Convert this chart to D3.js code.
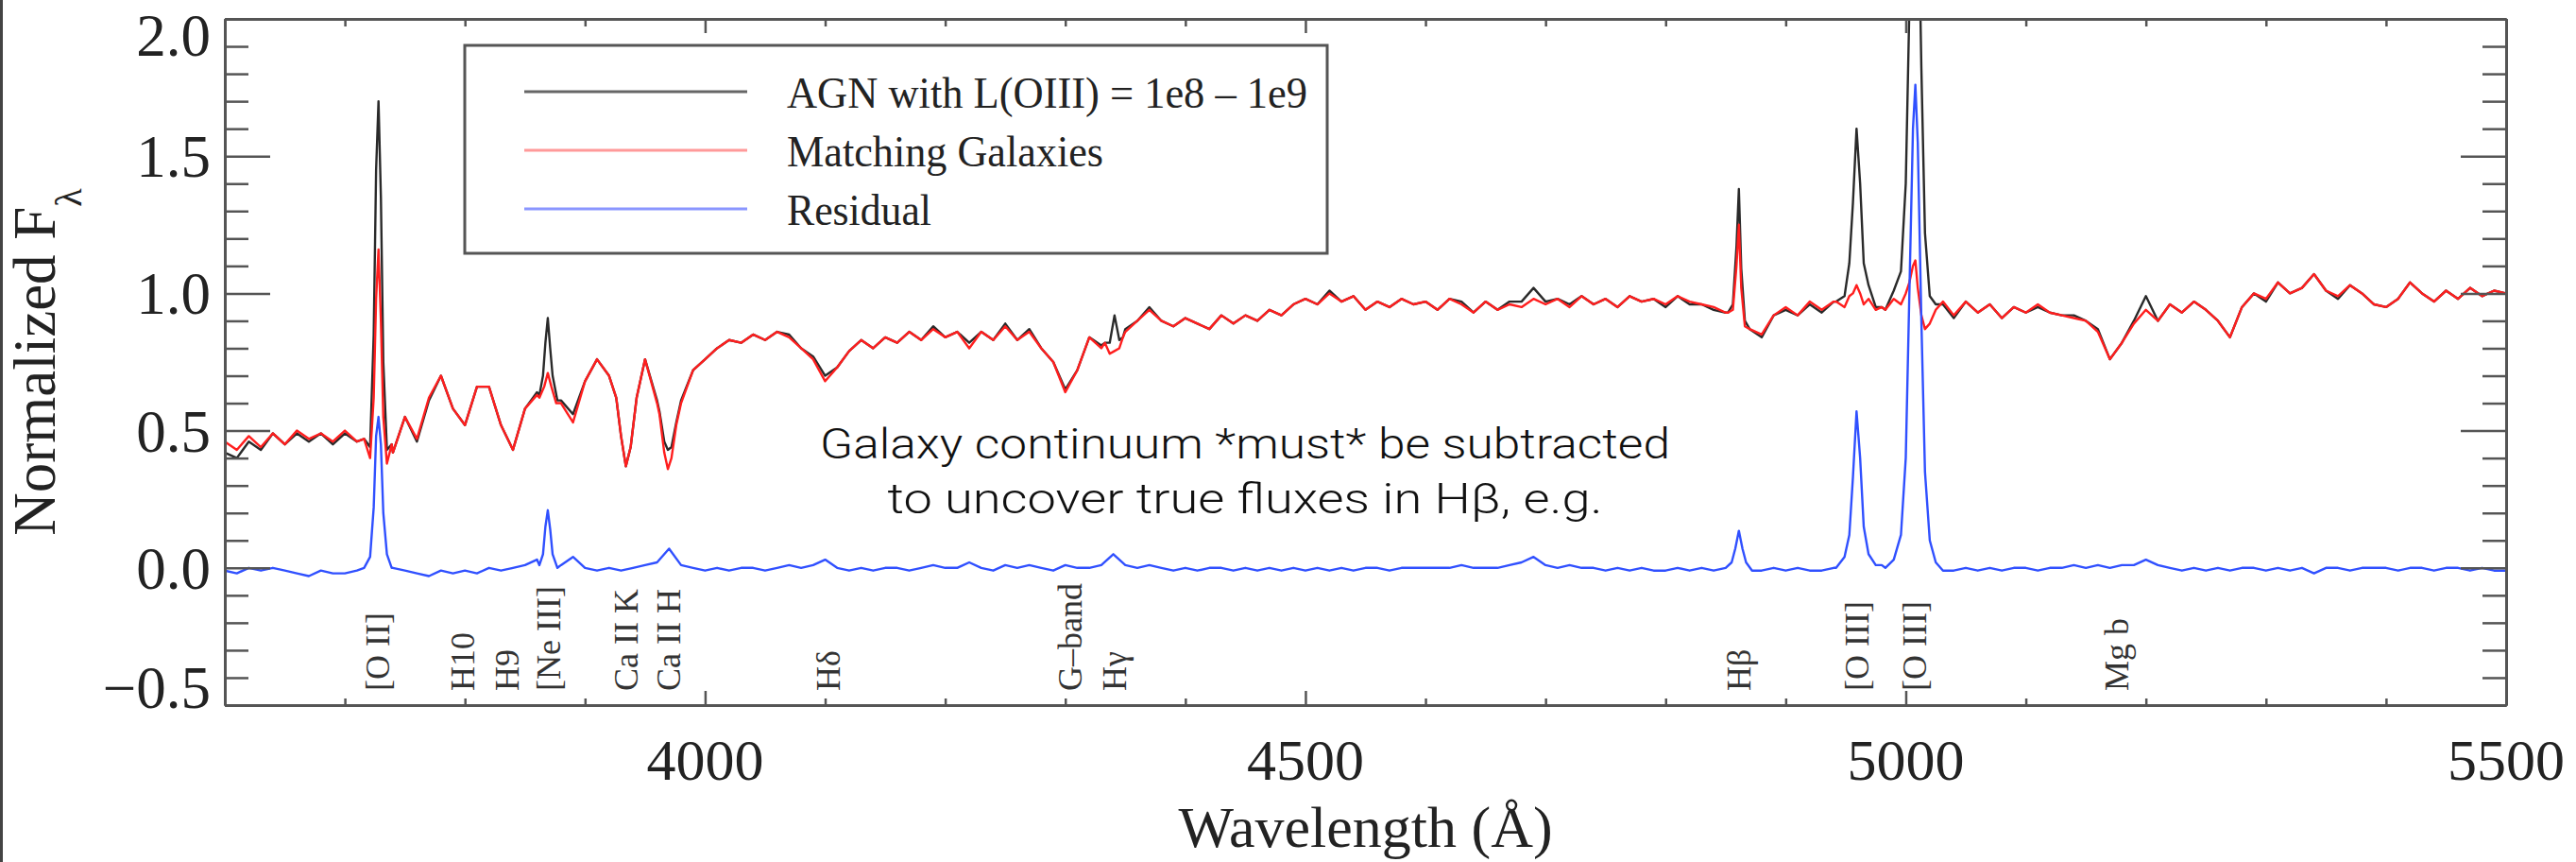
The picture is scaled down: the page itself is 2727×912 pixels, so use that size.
<!DOCTYPE html>
<html><head><meta charset="utf-8">
<script src="https://cdn.jsdelivr.net/npm/d3@7"></script>
<style>body{margin:0;background:#fff;} svg{display:block}</style>
</head><body>
<svg id="chart" width="2727" height="912"></svg>
<script>
// ---------------- DATA ----------------
const lambdaStart = 3600, lambdaStep = 10;   // regular 10 Å sampling grid 3600..5500

// Matching galaxies (red) on the 10 Å grid
const galaxyFlux = [
 0.46,0.43,0.48,0.44,0.49,0.45,0.50,0.47,0.49,0.46,
 0.50,0.46,0.45,0.45,0.42,0.55,0.47,0.62,0.70,0.58,
 0.52,0.66,0.66,0.52,0.43,0.58,0.63,0.70,0.60,0.53,
 0.68,0.76,0.70,0.50,0.50,0.76,0.60,0.40,0.60,0.72,
 0.76,0.80,0.83,0.82,0.85,0.83,0.86,0.84,0.80,0.76,
 0.68,0.73,0.79,0.83,0.80,0.84,0.82,0.86,0.83,0.87,
 0.84,0.86,0.80,0.86,0.83,0.88,0.83,0.86,0.80,0.75,
 0.64,0.72,0.84,0.80,0.79,0.86,0.90,0.94,0.90,0.88,
 0.91,0.89,0.87,0.92,0.89,0.92,0.90,0.94,0.92,0.96,
 0.98,0.96,1.00,0.97,0.99,0.94,0.97,0.95,0.98,0.96,
 0.97,0.94,0.98,0.96,0.93,0.97,0.94,0.96,0.95,0.98,
 0.96,0.98,0.95,0.99,0.96,0.98,0.95,0.99,0.97,0.98,
 0.96,0.99,0.97,0.96,0.95,0.93,1.00,0.87,0.85,0.92,
 0.95,0.92,0.97,0.94,0.97,0.96,1.02,0.98,0.95,0.97,
 0.99,1.08,0.88,0.95,0.92,0.97,0.93,0.96,0.91,0.95,
 0.93,0.96,0.93,0.92,0.91,0.90,0.86,0.76,0.82,0.89,
 0.94,0.90,0.96,0.93,0.97,0.94,0.90,0.84,0.95,1.00,
 0.98,1.04,1.00,1.02,1.07,1.01,0.99,1.03,1.00,0.96,
 0.95,0.98,1.04,1.00,0.97,1.01,0.98,1.02,0.99,1.01,
 1.00
];

// AGN with L(OIII)=1e8-1e9 (black) on the 10 Å grid
const agnFlux = [
 0.42,0.40,0.46,0.43,0.49,0.45,0.49,0.46,0.49,0.45,
 0.49,0.46,0.45,0.45,0.42,0.55,0.46,0.61,0.70,0.58,
 0.52,0.66,0.66,0.52,0.43,0.58,0.64,0.80,0.61,0.56,
 0.68,0.76,0.70,0.50,0.50,0.76,0.61,0.45,0.61,0.72,
 0.76,0.80,0.83,0.82,0.85,0.83,0.86,0.85,0.80,0.77,
 0.70,0.73,0.79,0.83,0.80,0.84,0.82,0.86,0.83,0.88,
 0.84,0.86,0.82,0.86,0.83,0.89,0.83,0.87,0.80,0.75,
 0.65,0.72,0.84,0.81,0.85,0.87,0.90,0.95,0.90,0.88,
 0.91,0.89,0.87,0.92,0.89,0.92,0.90,0.94,0.92,0.96,
 0.98,0.96,1.01,0.97,0.99,0.94,0.97,0.95,0.98,0.96,
 0.97,0.94,0.98,0.97,0.93,0.97,0.94,0.97,0.97,1.02,
 0.97,0.98,0.96,0.99,0.96,0.98,0.95,0.99,0.97,0.98,
 0.95,0.99,0.96,0.96,0.94,0.93,1.10,0.87,0.84,0.92,
 0.94,0.92,0.96,0.93,0.97,1.05,1.50,1.02,0.95,1.00,
 1.10,2.50,0.95,0.95,0.91,0.97,0.93,0.96,0.91,0.95,
 0.93,0.95,0.93,0.92,0.92,0.90,0.87,0.76,0.82,0.90,
 0.99,0.90,0.96,0.93,0.97,0.94,0.90,0.84,0.95,1.00,
 0.97,1.04,1.00,1.02,1.07,1.01,0.98,1.03,1.00,0.96,
 0.95,0.98,1.04,1.00,0.97,1.01,0.98,1.02,0.99,1.01,
 1.00
];

// Residual (blue) on the 10 Å grid
const residualFlux = [
 -0.01,-0.02,0.00,-0.01,0.00,-0.01,-0.02,-0.03,-0.01,-0.02,
 -0.02,-0.01,0.03,0.40,0.00,-0.01,-0.02,-0.03,-0.01,-0.02,
 -0.01,-0.02,0.00,-0.01,0.00,0.01,0.03,0.20,0.01,0.04,
 0.00,-0.01,0.00,-0.01,0.00,0.01,0.02,0.07,0.01,0.00,
 -0.01,0.00,-0.01,0.00,0.00,-0.01,0.00,0.01,0.00,0.01,
 0.03,0.00,-0.01,0.00,-0.01,0.00,0.00,-0.01,0.00,0.01,
 0.00,0.00,0.02,0.00,-0.01,0.01,0.00,0.01,0.00,-0.01,
 0.01,0.00,0.00,0.01,0.05,0.01,0.00,0.01,0.00,-0.01,
 0.00,-0.01,0.00,0.00,-0.01,0.00,-0.01,0.00,-0.01,0.00,
 -0.01,0.00,-0.01,0.00,-0.01,0.00,0.00,-0.01,0.00,0.00,
 0.00,0.00,0.00,0.01,0.00,0.00,0.00,0.01,0.02,0.04,
 0.01,0.00,0.01,0.00,0.00,-0.01,0.00,-0.01,0.00,-0.01,
 -0.01,0.00,-0.01,0.00,-0.01,0.00,0.13,0.00,-0.01,0.00,
 -0.01,0.00,-0.01,-0.01,0.00,0.10,0.55,0.06,0.01,0.02,
 0.30,1.70,0.10,0.00,-0.01,0.00,-0.01,0.00,-0.01,0.00,
 0.00,-0.01,0.00,0.00,0.01,0.00,0.01,0.00,0.01,0.01,
 0.03,0.01,0.00,-0.01,0.00,-0.01,0.00,-0.01,0.00,0.00,
 -0.01,0.00,-0.01,0.00,-0.02,0.00,0.00,-0.01,0.00,0.00,
 0.00,-0.01,0.00,0.00,-0.01,0.00,0.00,-0.01,0.00,-0.01,
 -0.01
];

// Finely sampled [wavelength, flux] pieces around lines / deep features
const galaxyDetail = [
 [[3716,0.47],[3721,0.40],[3724,0.62],[3726,0.98],[3728,1.16],[3730,0.90],[3732,0.55],[3735,0.38],[3739,0.45]],
 [[3862,0.62],[3866,0.66],[3869,0.71],[3872,0.66],[3876,0.60]],
 [[3926,0.62],[3930,0.48],[3934,0.37],[3938,0.44],[3943,0.62]],
 [[3962,0.56],[3966,0.42],[3969,0.36],[3972,0.40],[3976,0.52]],
 [[4333,0.82],[4337,0.78],[4341,0.79],[4345,0.80],[4348,0.84]],
 [[4852,0.93],[4856,0.94],[4859,1.10],[4861,1.25],[4863,1.02],[4866,0.88]],
 [[4942,0.97],[4949,0.95],[4953,0.99],[4956,1.00],[4959,1.03],[4962,1.00],[4965,0.96],[4969,0.98],[4975,0.94]],
 [[4983,0.94],[4990,0.98],[4996,0.96],[5000,1.00],[5003,1.04],[5006,1.10],[5008,1.12],[5010,1.02],[5013,0.92],[5016,0.87],[5020,0.89],[5025,0.94],[5031,0.97]]
];
const agnDetail = [
 [[3716,0.47],[3721,0.44],[3724,0.85],[3726,1.45],[3728,1.70],[3730,1.35],[3732,0.75],[3735,0.43],[3739,0.45]],
 [[3862,0.63],[3865,0.70],[3867,0.82],[3869,0.91],[3871,0.80],[3873,0.70],[3877,0.61]],
 [[3926,0.62],[3930,0.48],[3934,0.37],[3938,0.44],[3943,0.62]],
 [[3962,0.57],[3966,0.46],[3969,0.43],[3972,0.44],[3976,0.53]],
 [[4333,0.82],[4337,0.82],[4341,0.92],[4345,0.83],[4348,0.84]],
 [[4852,0.93],[4856,0.96],[4859,1.17],[4861,1.38],[4863,1.09],[4866,0.90]],
 [[4942,0.97],[4949,0.99],[4953,1.11],[4956,1.33],[4959,1.60],[4962,1.40],[4965,1.11],[4969,1.03],[4975,0.95]],
 [[4983,0.94],[4990,1.01],[4996,1.08],[5000,1.40],[5003,2.04],[5006,2.70],[5008,2.88],[5010,2.57],[5013,1.82],[5016,1.22],[5020,0.99],[5025,0.96],[5031,0.96]]
];
const residualDetail = [
 [[3716,0.00],[3721,0.04],[3724,0.22],[3726,0.48],[3728,0.55],[3730,0.45],[3732,0.20],[3735,0.05],[3739,0.00]],
 [[3862,0.01],[3865,0.05],[3867,0.15],[3869,0.21],[3871,0.14],[3873,0.05],[3877,0.00]],
 [[4850,0.00],[4855,0.02],[4858,0.07],[4861,0.135],[4864,0.07],[4867,0.02],[4872,-0.01]],
 [[4942,0.00],[4949,0.04],[4953,0.12],[4956,0.33],[4959,0.57],[4962,0.40],[4965,0.15],[4969,0.05],[4975,0.01]],
 [[4983,0.00],[4990,0.03],[4996,0.12],[5000,0.40],[5003,1.00],[5006,1.60],[5008,1.76],[5010,1.55],[5013,0.90],[5016,0.35],[5020,0.10],[5025,0.02],[5031,-0.01]]
];

const xMajorTicks = [4000, 4500, 5000, 5500];
const yMajorTicks = [-0.5, 0.0, 0.5, 1.0, 1.5, 2.0];
const yTickLabels = ["\u22120.5", "0.0", "0.5", "1.0", "1.5", "2.0"];
const xTickLabels = ["4000", "4500", "5000", "5500"];

const lineLabelNames = ["[O II]","H10","H9","[Ne III]","Ca II K","Ca II H","H\u03b4","G\u2013band","H\u03b3","H\u03b2","[O III]","[O III]","Mg b"];
const lineLabelWaves = [3727, 3798, 3835, 3869, 3934, 3969, 4102, 4304, 4341, 4861, 4959, 5007, 5175];

const legendNames = ["AGN with L(OIII) = 1e8 \u2013 1e9", "Matching Galaxies", "Residual"];
const annotationLines = ["Galaxy continuum *must* be subtracted", "to uncover true fluxes in H\u03b2, e.g."];

// ---------------- LAYOUT ----------------
const W = 2727, H = 912;
const plot = {left: 238, right: 2653, top: 20, bottom: 746};
const serif = "'Liberation Serif','Times New Roman',Times,serif";
const svg = d3.select("#chart");

const x = d3.scaleLinear().domain([3600, 5500]).range([plot.left, plot.right]);
const y = d3.scaleLinear().domain([-0.5, 2.0]).range([plot.bottom, plot.top]);

function buildSeries(grid, detail) {
  let pts = grid.map((v, i) => [lambdaStart + i * lambdaStep, v]);
  pts = pts.filter(p => !detail.some(seg => p[0] >= seg[0][0] - 0.5 && p[0] <= seg[seg.length - 1][0] + 0.5));
  detail.forEach(seg => { pts = pts.concat(seg); });
  return pts.sort((a, b) => a[0] - b[0]);
}
const agnSeries = buildSeries(agnFlux, agnDetail);
const galSeries = buildSeries(galaxyFlux, galaxyDetail);
const resSeries = buildSeries(residualFlux, residualDetail);

// left border line of the slide
svg.append("line").attr("x1", 1.5).attr("x2", 1.5).attr("y1", 0).attr("y2", H)
  .attr("stroke", "#444").attr("stroke-width", 3);

// clip
svg.append("defs").append("clipPath").attr("id", "clip")
  .append("rect").attr("x", plot.left).attr("y", plot.top)
  .attr("width", plot.right - plot.left).attr("height", plot.bottom - plot.top);

const line = d3.line().x(d => x(d[0])).y(d => y(d[1]));
const gLines = svg.append("g").attr("clip-path", "url(#clip)");
gLines.append("path").datum(agnSeries).attr("d", line).attr("fill", "none")
  .attr("stroke", "#2a2a2a").attr("stroke-width", 2.4).attr("stroke-linejoin", "round");
gLines.append("path").datum(galSeries).attr("d", line).attr("fill", "none")
  .attr("stroke", "#ff1e1e").attr("stroke-width", 2.4).attr("stroke-linejoin", "round");
gLines.append("path").datum(resSeries).attr("d", line).attr("fill", "none")
  .attr("stroke", "#3050ff").attr("stroke-width", 2.4).attr("stroke-linejoin", "round");

// ---------------- AXES ----------------
const axisColor = "#555";
const xMinor = d3.range(3600, 5501, 100).filter(v => !xMajorTicks.includes(v));
const yMinor = d3.range(-5, 21, 1).map(v => v / 10).filter(v => !yMajorTicks.some(m => Math.abs(m - v) < 1e-6));

function styleAxis(g) {
  g.selectAll("path.domain").attr("stroke", axisColor).attr("stroke-width", 3);
  g.selectAll(".tick line").attr("stroke", axisColor).attr("stroke-width", 2.5);
  g.selectAll(".tick text").remove();
}
// bottom
svg.append("g").attr("transform", `translate(0,${plot.bottom})`)
  .call(d3.axisBottom(x).tickValues(xMajorTicks).tickSizeInner(-15).tickSizeOuter(0)).call(styleAxis);
svg.append("g").attr("transform", `translate(0,${plot.bottom})`)
  .call(d3.axisBottom(x).tickValues(xMinor).tickSizeInner(-7).tickSizeOuter(0)).call(styleAxis);
// top
svg.append("g").attr("transform", `translate(0,${plot.top})`)
  .call(d3.axisTop(x).tickValues(xMajorTicks).tickSizeInner(-15).tickSizeOuter(0)).call(styleAxis);
svg.append("g").attr("transform", `translate(0,${plot.top})`)
  .call(d3.axisTop(x).tickValues(xMinor).tickSizeInner(-8).tickSizeOuter(0)).call(styleAxis);
// left
svg.append("g").attr("transform", `translate(${plot.left},0)`)
  .call(d3.axisLeft(y).tickValues(yMajorTicks).tickSizeInner(-48).tickSizeOuter(0)).call(styleAxis);
svg.append("g").attr("transform", `translate(${plot.left},0)`)
  .call(d3.axisLeft(y).tickValues(yMinor).tickSizeInner(-25).tickSizeOuter(0)).call(styleAxis);
// right
svg.append("g").attr("transform", `translate(${plot.right},0)`)
  .call(d3.axisRight(y).tickValues(yMajorTicks).tickSizeInner(-48).tickSizeOuter(0)).call(styleAxis);
svg.append("g").attr("transform", `translate(${plot.right},0)`)
  .call(d3.axisRight(y).tickValues(yMinor).tickSizeInner(-25).tickSizeOuter(0)).call(styleAxis);

// tick labels
svg.append("g").selectAll("text").data(xMajorTicks).join("text")
  .attr("x", d => x(d)).attr("y", 825).attr("text-anchor", "middle")
  .attr("font-family", serif).attr("font-size", 62).attr("fill", "#222")
  .text((d, i) => xTickLabels[i]);
svg.append("g").selectAll("text").data(yMajorTicks).join("text")
  .attr("x", 223).attr("y", d => Math.min(727, Math.max(37, y(d))))
  .attr("dy", "0.35em").attr("text-anchor", "end")
  .attr("font-family", serif).attr("font-size", 63).attr("fill", "#222")
  .text((d, i) => yTickLabels[i]);

// axis titles
svg.append("text").attr("x", (plot.left + plot.right) / 2).attr("y", 896)
  .attr("text-anchor", "middle").attr("font-family", serif).attr("font-size", 62).attr("fill", "#222")
  .text("Wavelength (\u00c5)");
const yt = svg.append("text").attr("transform", `translate(58,${(plot.top + plot.bottom) / 2}) rotate(-90)`)
  .attr("text-anchor", "middle").attr("font-family", serif).attr("font-size", 63).attr("fill", "#222");
yt.append("tspan").text("Normalized F");
yt.append("tspan").attr("dy", 28).attr("font-size", 40).text("\u03bb");

// spectral line labels (rotated)
svg.append("g").selectAll("text").data(lineLabelWaves).join("text")
  .attr("transform", d => `translate(${x(d)},731) rotate(-90)`)
  .attr("dy", "0.35em").attr("text-anchor", "start")
  .attr("font-family", serif).attr("font-size", 36).attr("fill", "#333")
  .text((d, i) => lineLabelNames[i]);

// ---------------- LEGEND ----------------
const legend = svg.append("g");
legend.append("rect").attr("x", 492).attr("y", 48).attr("width", 913).attr("height", 220)
  .attr("fill", "#fff").attr("stroke", "#555").attr("stroke-width", 3);
const legendColors = ["#666", "#ff9a9a", "#8a96ff"];
const legendWidths = [551, 335, 153];
const legendYs = [97, 159, 221];
legendNames.forEach((name, i) => {
  legend.append("line").attr("x1", 555).attr("x2", 791).attr("y1", legendYs[i]).attr("y2", legendYs[i])
    .attr("stroke", legendColors[i]).attr("stroke-width", 3);
  legend.append("text").attr("x", 833).attr("y", legendYs[i] + 17)
    .attr("font-family", serif).attr("font-size", 47).attr("fill", "#222")
    .attr("textLength", legendWidths[i]).attr("lengthAdjust", "spacingAndGlyphs")
    .text(name);
});

// ---------------- ANNOTATION ----------------
const annWidths = [900, 757];
const annYs = [485, 543];
annotationLines.forEach((t, i) => {
  svg.append("text").attr("x", 1318).attr("y", annYs[i]).attr("text-anchor", "middle")
    .attr("font-family", "Roboto,'Liberation Sans',Arial,sans-serif").attr("font-weight", 300)
    .attr("font-size", 44).attr("fill", "#111")
    .attr("textLength", annWidths[i]).attr("lengthAdjust", "spacingAndGlyphs")
    .text(t);
});
</script>
</body></html>
